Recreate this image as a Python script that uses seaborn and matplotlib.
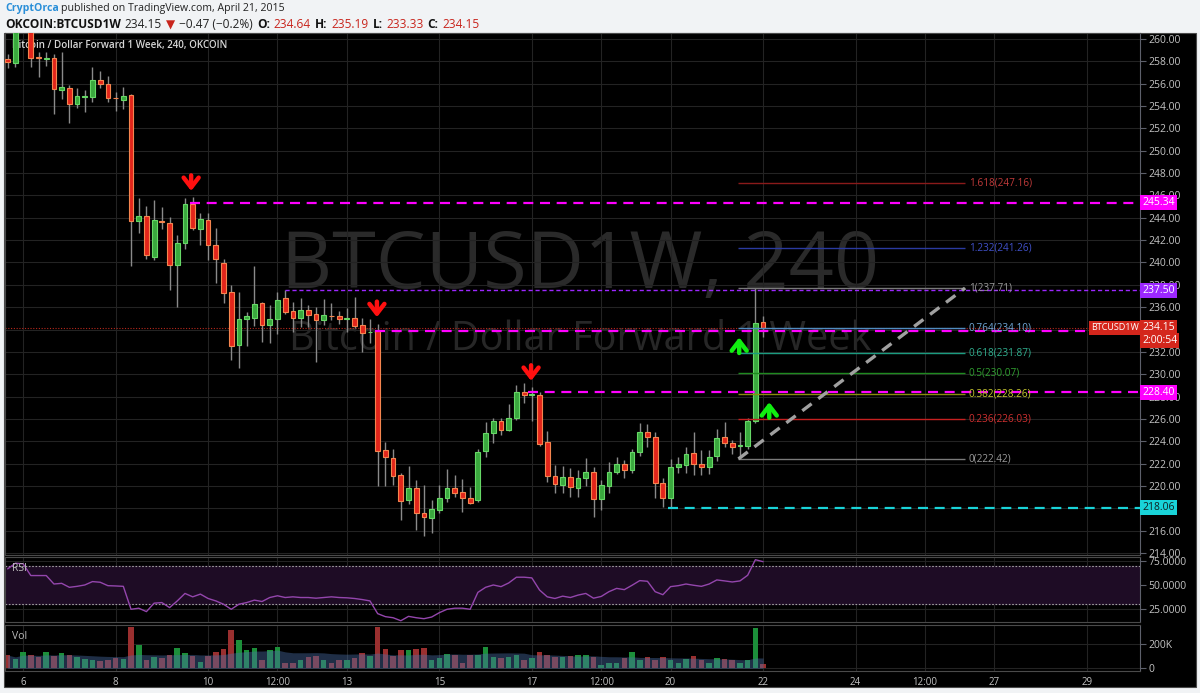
import matplotlib
matplotlib.use("Agg")
import matplotlib.pyplot as plt
import matplotlib.transforms as mtransforms
from matplotlib.patches import Rectangle
from matplotlib.ticker import FormatStrFormatter
import seaborn as sns
import numpy as np
import pandas as pd

# ---- data (4h candles, OKCOIN BTCUSD1W) ----
opens = [258.18, 257.82, 261.30, 261.20, 258.35, 258.22, 258.27, 255.43, 255.59, 254.18,
         254.85, 254.83, 256.33, 255.94, 254.74, 254.57, 254.99, 243.73, 244.15, 240.46,
         243.72, 243.55, 239.79, 241.71, 245.20, 242.96, 243.80, 241.56, 239.92, 237.35,
         232.60, 234.91, 235.05, 236.37, 234.42, 234.91, 236.79, 235.62, 235.05, 235.74,
         235.35, 234.84, 235.25, 235.20, 234.98, 235.00, 234.37, 233.75, 233.86, 223.20,
         222.52, 220.97, 218.73, 219.83, 217.54, 217.15, 217.83, 218.94, 219.83, 219.42,
         218.94, 218.73, 223.12, 224.70, 225.80, 225.00, 226.04, 228.37, 228.17, 228.13,
         223.95, 220.88, 220.07, 220.82, 219.78, 220.67, 221.21, 218.79, 220.01, 221.27,
         221.92, 221.41, 223.05, 224.79, 224.40, 220.28, 218.88, 221.71, 221.86, 222.91,
         222.00, 221.71, 222.67, 224.34, 223.80, 223.62, 223.59, 225.83, 234.64]
highs = [258.66, 261.60, 262.20, 261.80, 258.86, 258.86, 258.66, 258.80, 255.88, 255.59,
         255.43, 257.52, 257.14, 256.69, 255.28, 255.68, 255.08, 245.79, 245.05, 245.60,
         244.93, 244.10, 242.45, 245.80, 245.90, 244.40, 244.45, 243.05, 240.28, 237.98,
         237.38, 235.53, 239.68, 236.46, 236.19, 237.32, 237.53, 236.49, 236.79, 236.16,
         235.98, 236.72, 236.34, 235.68, 235.94, 236.88, 235.00, 234.91, 234.49, 223.95,
         223.27, 221.12, 221.77, 220.52, 220.07, 218.73, 220.07, 221.48, 220.97, 220.58,
         219.92, 223.27, 225.74, 226.04, 226.04, 227.32, 229.02, 229.17, 228.87, 228.40,
         224.91, 221.86, 221.77, 221.57, 221.40, 222.46, 221.71, 220.52, 222.10, 222.60,
         222.30, 223.30, 225.65, 225.50, 224.84, 220.67, 222.40, 222.55, 223.50, 224.84,
         223.20, 223.20, 225.10, 225.68, 224.10, 224.84, 226.10, 237.71, 235.19]
lows = [257.40, 257.50, 260.70, 257.52, 256.62, 257.58, 253.29, 254.60, 252.45, 253.85,
        253.49, 254.39, 255.64, 254.39, 253.58, 253.76, 239.70, 242.60, 240.28, 240.20,
        242.96, 237.53, 236.03, 241.20, 242.90, 241.60, 240.20, 238.20, 236.40, 231.26,
        230.52, 232.54, 234.31, 232.85, 232.76, 233.59, 235.40, 233.80, 234.24, 234.24,
        231.11, 234.37, 234.84, 234.49, 233.79, 234.10, 232.00, 232.76, 219.98, 219.98,
        220.07, 216.94, 218.37, 216.04, 215.50, 215.77, 217.54, 218.58, 219.02, 217.68,
        218.37, 218.58, 222.55, 223.86, 224.55, 224.93, 225.89, 227.38, 225.83, 223.60,
        220.37, 219.38, 219.40, 218.97, 219.00, 219.98, 217.18, 217.83, 219.40, 221.10,
        220.70, 221.20, 222.67, 223.50, 218.88, 218.13, 218.06, 221.20, 221.20, 221.00,
        221.00, 221.10, 222.22, 223.50, 222.85, 222.42, 223.30, 225.60, 233.33]
closes = [257.91, 261.30, 261.90, 258.33, 258.28, 258.26, 255.50, 255.73, 254.18, 254.90,
          254.89, 256.33, 255.94, 254.72, 254.70, 254.92, 243.73, 244.15, 240.66, 243.77,
          243.64, 239.79, 241.71, 245.20, 243.05, 243.88, 241.56, 240.28, 237.23, 232.49,
          234.93, 235.20, 236.28, 234.42, 234.93, 236.64, 235.59, 235.05, 235.74, 235.32,
          234.84, 235.29, 235.21, 234.91, 235.02, 234.33, 233.71, 233.79, 223.12, 222.55,
          220.90, 218.67, 219.83, 217.54, 217.24, 217.90, 218.94, 219.83, 219.38, 218.94,
          218.43, 223.05, 224.70, 225.80, 225.00, 226.04, 228.37, 228.13, 228.21, 223.71,
          220.88, 220.13, 220.82, 219.87, 220.67, 221.21, 218.79, 220.07, 221.27, 221.92,
          221.41, 223.05, 224.79, 224.40, 220.28, 218.88, 221.71, 222.00, 222.82, 221.95,
          221.71, 222.61, 224.30, 223.80, 223.50, 223.68, 225.80, 234.62, 234.15]
volumes_k = [110, 80, 140, 110, 95, 140, 100, 130, 110, 95,
             75, 70, 60, 70, 85, 80, 341, 195, 70, 95,
             85, 110, 170, 125, 105, 55, 105, 140, 165, 320,
             240, 150, 170, 70, 150, 175, 45, 45, 70, 97,
             103, 70, 45, 70, 70, 85, 125, 105, 341, 160,
             105, 150, 150, 165, 168, 70, 85, 120, 110, 45,
             110, 110, 175, 97, 85, 97, 110, 70, 85, 140,
             110, 97, 97, 100, 115, 110, 97, 30, 45, 41,
             85, 135, 70, 92, 70, 95, 70, 45, 75, 105,
             70, 45, 85, 80, 70, 45, 70, 333, 40]
rsi_values = [66.6, 72.4, 71.8, 59.7, 59.7, 59.7, 51.0, 51.7, 47.6, 48.6,
              50.0, 53.5, 52.8, 49.3, 49.0, 48.6, 25.0, 26.1, 22.6, 31.3,
              31.9, 26.7, 33.6, 41.3, 37.8, 40.6, 36.1, 33.6, 30.2, 25.0,
              30.2, 31.9, 34.4, 33.0, 37.1, 38.9, 37.1, 37.8, 37.1, 37.1,
              36.4, 37.1, 37.8, 37.1, 36.8, 36.1, 35.0, 33.6, 20.5, 17.4,
              16.3, 13.2, 17.7, 16.3, 15.3, 17.0, 21.5, 25.0, 26.1, 26.1,
              25.0, 42.4, 47.6, 50.0, 48.3, 52.1, 58.0, 58.0, 57.3, 44.8,
              37.8, 36.1, 38.5, 37.1, 39.6, 41.3, 36.4, 38.2, 43.1, 46.5,
              45.2, 49.7, 54.5, 53.8, 43.1, 40.0, 48.3, 49.3, 51.0, 49.7,
              48.6, 51.0, 55.2, 54.2, 53.1, 54.2, 60.0, 76.0, 74.0]

x_tick_pos = [2, 14, 26, 35, 44, 56, 68, 77, 86, 98, 110, 119, 128, 140]
x_tick_labels = ["6", "8", "10", "12:00", "13", "15", "17", "12:00", "20", "22",
                 "24", "12:00", "27", "29"]

# fibonacci tool
fib_low, fib_high = 222.42, 237.71
fib_start, fib_end = 94.8, 124.2
fib_ratios = [0, 0.236, 0.382, 0.5, 0.618, 0.764, 1, 1.232, 1.618]
fib_line_colors = ["#7a7a7a", "#c62020", "#8c8c10", "#1f8a1f", "#1a9c80",
                   "#4f8cc0", "#7a7a7a", "#2a3aa0", "#8a1a1a"]
fib_text_colors = ["#9a9a9a", "#d03030", "#c8c830", "#30a030", "#30b090",
                   "#70a8d8", "#9a9a9a", "#4050c8", "#c03a3a"]

# horizontal levels
level_prices = [245.34, 237.50, 233.90, 228.40, 218.06]
level_starts = [23.7, 36.0, 47.7, 67.5, 85.7]
level_colors = ["#ff00ff", "#9c27ff", "#ff00ff", "#ff00ff", "#19d3d8"]
level_tags = ["245.34", "237.50", None, "228.40", "218.06"]

# signal arrows (candle position, tip price)
down_arrow_x = [23.8, 47.9, 67.9]
down_arrow_tip = [246.4, 235.1, 229.4]
up_arrow_x = [94.9, 98.8]
up_arrow_tip = [233.3, 227.5]

last_price = 234.15
hidden_price_labels = [218, 234]  # fully covered by the price tags

# ---- figure ----
W, H = 1200, 693
sns.set_theme(style="dark")
plt.rcParams["font.family"] = ["Open Sans", "DejaVu Sans"]

fig = plt.figure(figsize=(W / 100, H / 100), dpi=100, facecolor="#f1f3f5")
fig.add_artist(Rectangle((4 / W, 1 - 687 / H), 1192 / W, 654 / H, transform=fig.transFigure,
                         fc="black", ec="#4a4a4a", lw=0.8, zorder=0))


def pane(top, bottom):
    a = fig.add_axes([5 / W, 1 - bottom / H, 1135 / W, (bottom - top) / H])
    a.set_facecolor("black")
    a.set_xlim(-0.35, 146.9)
    a.grid(True, color="#232323", lw=0.8)
    a.set_axisbelow(True)
    for s in a.spines.values():
        s.set_color("#4a4a4a")
        s.set_linewidth(0.8)
    a.spines["right"].set_color("#5d606b")
    a.yaxis.tick_right()
    a.tick_params(axis="y", colors="#5d606b", labelcolor="#c3c3c3", labelsize=7.5,
                  length=4, width=0.8, pad=2)
    a.set_xticks(x_tick_pos)
    a.tick_params(axis="x", length=0, labelbottom=False)
    return a


idx = np.arange(len(opens))
df = pd.DataFrame({"i": idx, "o": opens, "h": highs, "l": lows, "c": closes,
                   "v": volumes_k, "rsi": rsi_values})
up = df["c"] >= df["o"]

# main price pane
ax = pane(33, 555)
ax.set_ylim(213.82, 260.54)
price_ticks = np.arange(214, 261, 2)
ax.set_yticks(price_ticks)
ax.set_yticklabels(["" if t in hidden_price_labels else f"{t:.2f}" for t in price_ticks])

ax.text(0.5066, 0.55, "BTCUSD1W, 240", transform=ax.transAxes, ha="center", va="center",
        fontsize=57, color="#2a2a2a", zorder=0.5)
ax.text(0.5066, 0.413, "Bitcoin / Dollar Forward 1 Week", transform=ax.transAxes,
        ha="center", va="center", fontsize=28.5, color="#272727", zorder=0.5)
ax.text(0.006, 0.977, "Bitcoin / Dollar Forward 1 Week, 240, OKCOIN", transform=ax.transAxes,
        ha="left", va="center", fontsize=7.1, color="#d6d6d6", fontweight="semibold")

ax.vlines(df["i"], df["l"], df["h"], color="#8a8a8a", lw=1, zorder=2)
ax.bar(df["i"][up], (df["c"] - df["o"])[up], bottom=df["o"][up], width=0.62,
       color="#3aa83e", edgecolor="#66d866", lw=0.8, zorder=3)
ax.bar(df["i"][~up], (df["c"] - df["o"])[~up], bottom=df["o"][~up], width=0.62,
       color="#e2251b", edgecolor="#f5854f", lw=0.8, zorder=3)

ax.axhline(last_price, color="#b8281c", lw=0.8, ls=(0, (1, 1.5)), zorder=1.5)

blend = mtransforms.blended_transform_factory(ax.transAxes, ax.transData)
for p, x0, col, tag in zip(level_prices, level_starts, level_colors, level_tags):
    if col == "#9c27ff":
        ax.hlines(p, x0, 146.9, color=col, lw=1, linestyles=(0, (3, 2)), zorder=4)
    else:
        ax.hlines(p, x0, 146.9, color=col, lw=1.6, linestyles=(0, (4.5, 3)), zorder=4)
    if tag:
        tc = "#102020" if col == "#19d3d8" else "white"
        ax.text(1.002, p, tag, transform=blend, ha="left", va="center", fontsize=7.5,
                color=tc, clip_on=False, zorder=10,
                bbox=dict(boxstyle="square,pad=0.2", fc=col, ec="none"))

for r, lc, tc in zip(fib_ratios, fib_line_colors, fib_text_colors):
    p = fib_low + r * (fib_high - fib_low)
    ax.hlines(p, fib_start, fib_end, color=lc, lw=1, zorder=4)
    ax.text(fib_end + 0.5, p, f"{r:g}({round(p + 1e-9, 2):.2f})", ha="left", va="center",
            fontsize=7.2, color=tc, zorder=4)

sns.lineplot(x=[fib_start, fib_end], y=[fib_low, fib_high], ax=ax, color="#a0a0a0",
             lw=2.4, zorder=5).lines[-1].set_linestyle((0, (3.5, 2.5)))

arrow_style = "->,head_length=0.35,head_width=0.27"
for x, tip in zip(down_arrow_x, down_arrow_tip):
    ax.annotate("", xy=(x, tip), xytext=(x, tip + 1.4),
                arrowprops=dict(arrowstyle=arrow_style, color="#ff1010", lw=3.2,
                                mutation_scale=20, shrinkA=0, shrinkB=0), zorder=6)
for x, tip in zip(up_arrow_x, up_arrow_tip):
    ax.annotate("", xy=(x, tip), xytext=(x, tip - 1.4),
                arrowprops=dict(arrowstyle=arrow_style, color="#10ee10", lw=3.2,
                                mutation_scale=20, shrinkA=0, shrinkB=0), zorder=6)

ax.text(0.999, last_price, "BTCUSD1W", transform=blend, ha="right", va="center", fontsize=6.5,
        color="white", zorder=10, bbox=dict(boxstyle="square,pad=0.25", fc="#d4261c", ec="none"))
ax.text(1.002, last_price, f"{last_price:.2f}", transform=blend, ha="left", va="center",
        fontsize=7.5, color="white", clip_on=False, zorder=10,
        bbox=dict(boxstyle="square,pad=0.2", fc="#d4261c", ec="none"))
ax.text(1.002, last_price - 1.15, "2:00:54", transform=blend, ha="left", va="center",
        fontsize=7.5, color="white", clip_on=False, zorder=10,
        bbox=dict(boxstyle="square,pad=0.2", fc="#d4261c", ec="none"))

# RSI pane
axr = pane(557, 622)
axr.set_ylim(11.9, 78.8)
axr.axhspan(30, 70, color="#1e0c25", zorder=0.6)
axr.axhline(70, color="#a0a0a0", lw=0.8, ls=(0, (1.5, 1.5)))
axr.axhline(30, color="#a0a0a0", lw=0.8, ls=(0, (1.5, 1.5)))
sns.lineplot(data=df, x="i", y="rsi", ax=axr, color="#9446ad", lw=1)
axr.set_yticks([25, 50, 75])
axr.yaxis.set_major_formatter(FormatStrFormatter("%.4f"))
axr.set_xlabel("")
axr.set_ylabel("")
axr.text(0.006, 0.83, "RSI", transform=axr.transAxes, fontsize=7.5, color="#bdbdbd", va="center")

# volume pane
axv = pane(625, 671)
axv.set_ylim(-22.5, 361)
axv.bar(df["i"][up], df["v"][up], width=0.72, color="#1c8f3a", lw=0, edgecolor="none", zorder=2)
axv.bar(df["i"][~up], df["v"][~up], width=0.72, color="#9a2f2f", lw=0, edgecolor="none", zorder=2)
vol_ma = df["v"].rolling(20, min_periods=1).mean()
axv.fill_between(df["i"], 0, vol_ma, color="#4a70a8", alpha=0.42, lw=0, zorder=3)
axv.set_yticks([0, 200])
axv.set_yticklabels(["0", "200K"])
axv.text(0.006, 0.76, "Vol", transform=axv.transAxes, fontsize=7.5, color="#bdbdbd", va="center")
axv.set_xticks(x_tick_pos)
axv.set_xticklabels(x_tick_labels)
axv.tick_params(axis="x", labelbottom=True, labelsize=7, labelcolor="#c3c3c3", pad=4)

# header
renderer = fig.canvas.get_renderer()
ident = mtransforms.IdentityTransform()


def chain(x, y, parts, size, gap):
    for s, color, weight in parts:
        t = fig.text(x, H - y, s, color=color, fontsize=size, fontweight=weight,
                     ha="left", va="center", transform=ident)
        x = t.get_window_extent(renderer=renderer).x1 + gap


chain(5, 9, [("CryptOrca", "#2a8fd8", "bold"),
             ("published on TradingView.com, April 21, 2015", "#222222", "normal")], 7.6, 2.5)
red = "#c8241c"
chain(5, 25, [("OKCOIN:BTCUSD1W", "#111111", "bold"), ("234.15", "#222222", "normal"),
              ("▼", red, "normal"), ("−0.47 (−0.2%)", "#222222", "normal"),
              ("O:", "#111111", "bold"), ("234.64", red, "normal"),
              ("H:", "#111111", "bold"), ("235.19", red, "normal"),
              ("L:", "#111111", "bold"), ("233.33", red, "normal"),
              ("C:", "#111111", "bold"), ("234.15", red, "normal")], 8.6, 4)

fig.savefig("out.png", dpi=100, facecolor=fig.get_facecolor())
